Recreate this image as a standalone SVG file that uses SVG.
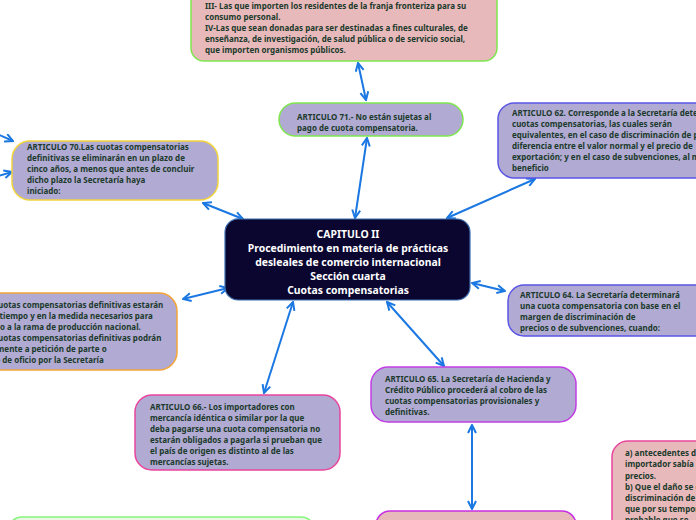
<svg xmlns="http://www.w3.org/2000/svg" width="696" height="520" viewBox="0 0 696 520">
<defs>
<marker id="ah" viewBox="0 0 10 10" refX="9" refY="5" markerWidth="10" markerHeight="10" markerUnits="userSpaceOnUse" orient="auto-start-reverse">
<path d="M1,1 L9,5 L1,9" fill="none" stroke="#1b78e2" stroke-width="2"/>
</marker>
<style>
.t{font-family:"Noto Sans","Open Sans",sans-serif;font-weight:bold;font-size:8px;fill:#1b3a2c}
.c{font-family:"Noto Sans","Open Sans",sans-serif;font-weight:bold;font-size:10.4px;fill:#ffffff;text-anchor:middle}
.lav{fill:#b1aad2}
.pink{fill:#e8b9bb}
.con{stroke:#1b78e2;stroke-width:2;fill:none}
</style>
</defs>
<rect width="696" height="520" fill="#ffffff"/>
<g id="connectors">
<line class="con" x1="358" y1="63" x2="366" y2="100" marker-start="url(#ah)" marker-end="url(#ah)"/>
<line class="con" x1="367" y1="138" x2="355" y2="218" marker-start="url(#ah)" marker-end="url(#ah)"/>
<line class="con" x1="203" y1="203" x2="243" y2="219" marker-start="url(#ah)" marker-end="url(#ah)"/>
<line class="con" x1="535" y1="179" x2="447" y2="218" marker-start="url(#ah)" marker-end="url(#ah)"/>
<line class="con" x1="183" y1="299" x2="228" y2="288" marker-start="url(#ah)" marker-end="url(#ah)"/>
<line class="con" x1="472" y1="283" x2="505" y2="291" marker-start="url(#ah)" marker-end="url(#ah)"/>
<line class="con" x1="387" y1="302" x2="444" y2="366" marker-start="url(#ah)" marker-end="url(#ah)"/>
<line class="con" x1="293" y1="302" x2="264" y2="393" marker-start="url(#ah)" marker-end="url(#ah)"/>
<line class="con" x1="472" y1="425" x2="472" y2="509" marker-start="url(#ah)" marker-end="url(#ah)"/>
<line class="con" x1="-5" y1="133" x2="13" y2="141" marker-end="url(#ah)"/>
<line class="con" x1="-5" y1="177" x2="12" y2="172" marker-end="url(#ah)"/>
</g>
<g id="n-top">
<rect class="pink" x="191" y="-30" width="306" height="91" rx="13" stroke="#7fe64f" stroke-width="1.5"/>
<text class="t" x="205" y="9">III- Las que importen los residentes de la franja fronteriza para su</text>
<text class="t" x="205" y="20">consumo personal.</text>
<text class="t" x="205" y="31">IV-Las que sean donadas para ser destinadas a fines culturales, de</text>
<text class="t" x="205" y="42">enseñanza, de investigación, de salud pública o de servicio social,</text>
<text class="t" x="205" y="53">que importen organismos públicos.</text>
</g>
<g id="n-art71">
<rect class="lav" x="279" y="103" width="184" height="33" rx="16.5" stroke="#7fe64f" stroke-width="1.5"/>
<text class="t" x="297" y="120">ARTICULO 71.- No están sujetas al</text>
<text class="t" x="297" y="131">pago de cuota compensatoria.</text>
</g>
<g id="n-art62">
<rect class="lav" x="498" y="103" width="230" height="75" rx="16" stroke="#5a55e6" stroke-width="1.5"/>
<text class="t" x="512" y="116">ARTICULO 62. Corresponde a la Secretaría determinar las</text>
<text class="t" x="512" y="127">cuotas compensatorias, las cuales serán</text>
<text class="t" x="512" y="138">equivalentes, en el caso de discriminación de precios, a la</text>
<text class="t" x="512" y="149">diferencia entre el valor normal y el precio de</text>
<text class="t" x="512" y="160">exportación; y en el caso de subvenciones, al monto del</text>
<text class="t" x="512" y="171">beneficio</text>
</g>
<g id="n-art70">
<rect class="lav" x="12" y="141" width="206" height="59" rx="18" stroke="#f2d43c" stroke-width="1.5"/>
<text class="t" x="27" y="150">ARTICULO 70.Las cuotas compensatorias</text>
<text class="t" x="27" y="161">definitivas se eliminarán en un plazo de</text>
<text class="t" x="27" y="172">cinco años, a menos que antes de concluir</text>
<text class="t" x="27" y="183">dicho plazo la Secretaría haya</text>
<text class="t" x="27" y="194">iniciado:</text>
</g>
<g id="n-central">
<rect x="225" y="219" width="245" height="81" rx="13" fill="#0b0630" stroke="#3d6fb0" stroke-width="1.2"/>
<text class="c" x="348" y="238">CAPITULO II</text>
<text class="c" x="348" y="252">Procedimiento en materia de prácticas</text>
<text class="c" x="348" y="266">desleales de comercio internacional</text>
<text class="c" x="348" y="280">Sección cuarta</text>
<text class="c" x="348" y="294">Cuotas compensatorias</text>
</g>
<g id="n-art67">
<rect class="lav" x="-100" y="293" width="277" height="77" rx="18" stroke="#f4a53a" stroke-width="1.5"/>
<text class="t" x="-80" y="308">ARTICULO 67.- Las cuotas compensatorias definitivas estarán</text>
<text class="t" x="-80" y="319">vigentes durante el tiempo y en la medida necesarios para</text>
<text class="t" x="-80" y="330">contrarrestar el daño a la rama de producción nacional.</text>
<text class="t" x="-80" y="341">ARTICULO 68.- Las cuotas compensatorias definitivas podrán</text>
<text class="t" x="-80" y="352">ser revisadas anualmente a petición de parte o</text>
<text class="t" x="-80" y="363">en cualquier tiempo de oficio por la Secretaría</text>
</g>
<g id="n-art64">
<rect class="lav" x="508" y="285" width="220" height="51" rx="16" stroke="#5a55e6" stroke-width="1.5"/>
<text class="t" x="520" y="298">ARTICULO 64. La Secretaría determinará</text>
<text class="t" x="520" y="309">una cuota compensatoria con base en el</text>
<text class="t" x="520" y="320">margen de discriminación de</text>
<text class="t" x="520" y="331">precios o de subvenciones, cuando:</text>
</g>
<g id="n-art65">
<rect class="lav" x="371" y="367" width="205" height="55" rx="17" stroke="#c13ee4" stroke-width="1.5"/>
<text class="t" x="385" y="382">ARTICULO 65. La Secretaría de Hacienda y</text>
<text class="t" x="385" y="393">Crédito Público procederá al cobro de las</text>
<text class="t" x="385" y="404">cuotas compensatorias provisionales y</text>
<text class="t" x="385" y="415">definitivas.</text>
</g>
<g id="n-art66">
<rect class="lav" x="135" y="395" width="205" height="75" rx="17" stroke="#e8469e" stroke-width="1.5"/>
<text class="t" x="150" y="410">ARTICULO 66.- Los importadores con</text>
<text class="t" x="150" y="421">mercancía idéntica o similar por la que</text>
<text class="t" x="150" y="432">deba pagarse una cuota compensatoria no</text>
<text class="t" x="150" y="443">estarán obligados a pagarla si prueban que</text>
<text class="t" x="150" y="454">el país de origen es distinto al de las</text>
<text class="t" x="150" y="465">mercancías sujetas.</text>
</g>
<g id="n-right-bottom">
<rect class="pink" x="612" y="441" width="140" height="110" rx="16" stroke="#e8469e" stroke-width="1.5"/>
<text class="t" x="625" y="456">a) antecedentes de discriminación</text>
<text class="t" x="625" y="467">importador sabía o debía saber</text>
<text class="t" x="625" y="479">precios.</text>
<text class="t" x="625" y="490">b) Que el daño se deba a</text>
<text class="t" x="625" y="501">discriminación de precios</text>
<text class="t" x="625" y="512">que por su temporalidad</text>
<text class="t" x="625" y="523">probable que se</text>
</g>
<g id="n-bottom-mid">
<rect class="pink" x="376" y="511" width="200" height="40" rx="14" stroke="#c62fe4" stroke-width="1.5"/>
</g>
<g id="n-bottom-left">
<rect x="8" y="517" width="307" height="40" rx="14" fill="#e9f7e4" stroke="#86f57a" stroke-width="1.5"/>
</g>
</svg>
